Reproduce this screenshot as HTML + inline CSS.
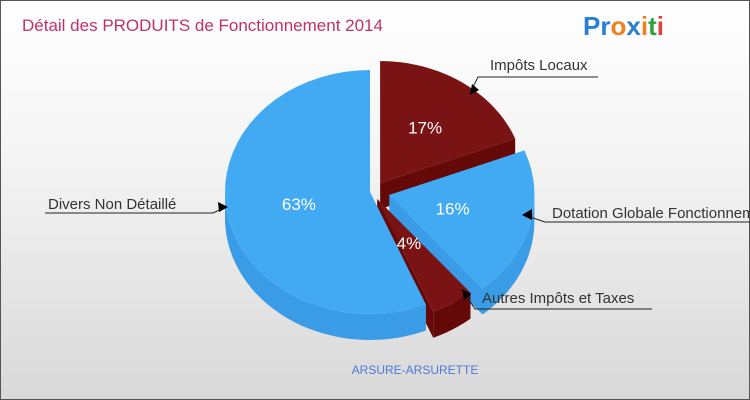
<!DOCTYPE html>
<html><head><meta charset="utf-8"><style>
body{margin:0;width:750px;height:400px;overflow:hidden}
#c{position:absolute;left:0;top:0;width:748px;height:398px;border:1px solid #555;background:linear-gradient(#fff 0%,#f4f4f4 40%,#d8d8d8 100%);font-family:"Liberation Sans",sans-serif}
</style></head><body>
<div id="c">
<svg id="s" width="750" height="400" style="position:absolute;left:-1px;top:-1px">
<text x="22" y="31" font-size="17" fill="#c0306a">Détail des PRODUITS de Fonctionnement 2014</text>
<g font-size="26" font-weight="bold">
<text x="583" y="35"><tspan fill="#2a7fd0">Pr</tspan><tspan fill="#f08020">o</tspan><tspan fill="#2a7fd0">x</tspan><tspan fill="#f08020">i</tspan><tspan fill="#30a040">t</tspan><tspan fill="#e04040">i</tspan></text></g>
<text x="415" y="374" font-size="12" fill="#4a7bd8" text-anchor="middle">ARSURE-ARSURETTE</text>
<g id="pie"></g>
<g id="ann" stroke="#222" fill="none" stroke-width="1">
<polyline points="598,77 478,77 470,93"/>
<polyline points="45,213 213,213 226,207"/>
<polyline points="750,222 545,222 524,215"/>
<polyline points="652,309 475,309 463,291"/>
</g>
<g fill="#000">
<polygon points="470,95 472,84 479,90"/>
<polygon points="228,207 218,202 219,212"/>
<polygon points="522,215 532,209 532,220"/>
<polygon points="462,289 471,294 464,300"/>
</g>
<g font-size="15" fill="#333">
<text x="490" y="70">Impôts Locaux</text>
<text x="48" y="209">Divers Non Détaillé</text>
<text x="552" y="218">Dotation Globale Fonctionnement</text>
<text x="482" y="303">Autres Impôts et Taxes</text>
</g>
</svg></div>
<script>
const categories=["Impôts Locaux","Dotation Globale Fonctionnement","Autres Impôts et Taxes","Divers Non Détaillé"];
const values=[17,16,4,63];
const pctLabels=["17%","16%","4%","63%"];
const colors=["#7a1414","#42aaf2","#7a1414","#42aaf2"];
const sides=["#650808","#3a9ce6","#650808","#3a9ce6"];
const explode=[18,20,14,0];
const labelR=[0.55,0.45,0.42,0.5];
const cx=370,cy=192,rx=145,ry=122,depth=26;
const ns="http://www.w3.org/2000/svg";
const g=document.getElementById('pie');
const tot=values.reduce((a,b)=>a+b,0);
function W(a){return a+0.5*(1-Math.cos(a))/2;}
function P(x0,y0,a,k){k=k||1;return [x0+rx*k*Math.sin(a),y0-ry*k*Math.cos(a)];}
function mk(d,fill,name){const p=document.createElementNS(ns,'path');p.setAttribute('d',d);p.setAttribute('fill',fill);


g.appendChild(p);return p;}
function arc(x0,y0,a1,a2,dy){let s='';const n=40;for(let i=0;i<=n;i++){const a=a1+(a2-a1)*i/n;const q=P(x0,y0+dy,a);s+=(i?'L':'')+q[0].toFixed(1)+','+q[1].toFixed(1)+' ';}return s;}
let acc=0;const sl=[];
values.forEach((v,i)=>{const a1=W(acc/tot*2*Math.PI);acc+=v;const a2=W(acc/tot*2*Math.PI);const m=(a1+a2)/2;
const ox=cx+explode[i]*Math.sin(m),oy=cy-explode[i]*Math.cos(m)*0.6;sl.push({i,a1,a2,m,ox,oy});});
sl.forEach(s=>{
 [s.a1,s.a2].forEach((a,j)=>{const e=P(s.ox,s.oy,a);
  mk(`M${s.ox},${s.oy} L${e[0]},${e[1]} L${e[0]},${e[1]+depth} L${s.ox},${s.oy+depth}Z`,sides[s.i],'slice-wall-'+s.i+'-'+j);});
});
sl.forEach(s=>{
 const b1=Math.max(s.a1,Math.PI/2),b2=Math.min(s.a2,1.5*Math.PI);
 if(b2>b1){const top=arc(s.ox,s.oy,b1,b2,0);const bot=arc(s.ox,s.oy,b2,b1,depth);
  mk('M'+top+'L'+bot+'Z',sides[s.i],'slice-side-'+s.i);}
});
sl.forEach(s=>{
 mk(`M${s.ox},${s.oy} L`+arc(s.ox,s.oy,s.a1,s.a2,0)+'Z',colors[s.i],'slice-'+s.i);
});
sl.forEach(s=>{
 const t=P(s.ox,s.oy,s.m,labelR[s.i]);
 const tx=document.createElementNS(ns,'text');tx.setAttribute('x',t[0]);tx.setAttribute('y',t[1]+6);
 tx.setAttribute('fill','#fff');tx.setAttribute('font-size','17');tx.setAttribute('text-anchor','middle');
 tx.setAttribute('font-family','Liberation Sans, sans-serif');tx.textContent=pctLabels[s.i];
 
 
 g.appendChild(tx);
});
</script>
</body></html>
